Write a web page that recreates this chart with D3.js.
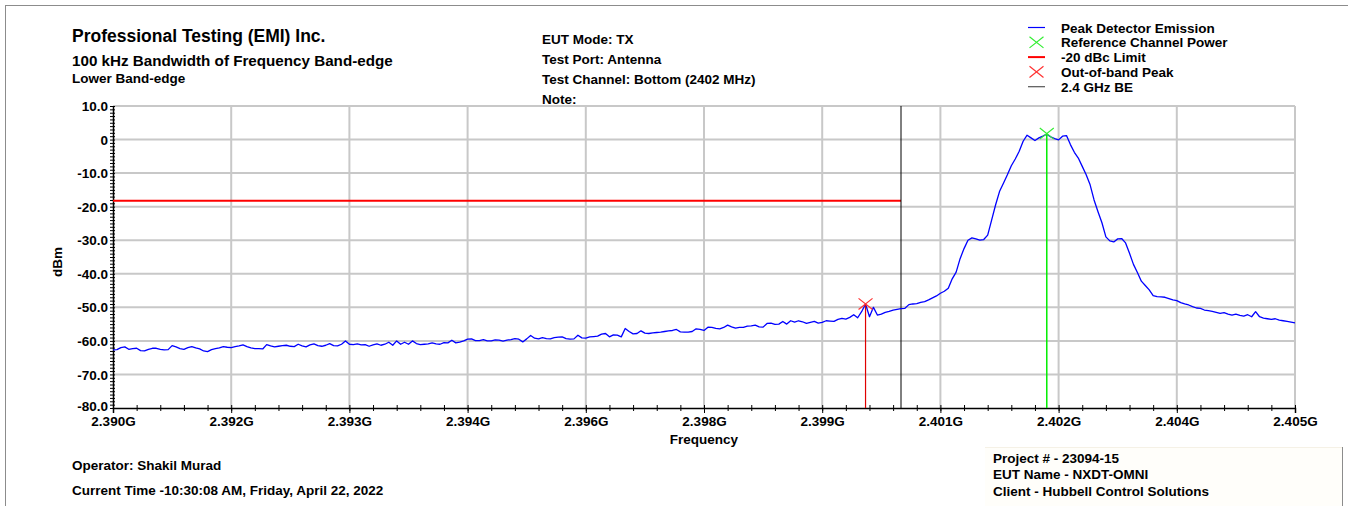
<!DOCTYPE html>
<html>
<head>
<meta charset="utf-8">
<script src="https://cdn.jsdelivr.net/npm/d3@7"></script>
<style>
  html, body { margin: 0; padding: 0; background: #ffffff; }
  svg { display: block; }
  text { font-family: "Liberation Sans", Arial, sans-serif; font-weight: bold; fill: #000; }
</style>
</head>
<body>
<svg id="chart" width="1348" height="506"></svg>
<script>
// ---------------- DATA ----------------
const traceStartMHz = 2390;
const traceStepMHz = 0.05;
const traceDbm = [
  -62.7,-62.6,-62.0,-61.8,-62.5,-62.3,-62.2,-62.9,-63.0,-62.5,-62.2,-62.2,-62.5,-62.7,-62.6,-61.4,-61.8,-62.3,-62.5,-62.0,
  -61.7,-62.1,-62.4,-63.0,-63.2,-62.6,-62.3,-62.1,-61.7,-61.9,-62.0,-61.7,-61.5,-61.2,-61.7,-62.1,-62.3,-62.3,-62.4,-61.1,
  -61.5,-61.8,-61.6,-61.4,-61.3,-61.6,-61.7,-61.0,-61.5,-61.8,-61.2,-60.9,-61.4,-61.6,-61.3,-60.8,-61.4,-61.5,-61.0,-60.0,
  -61.0,-61.1,-60.9,-61.2,-61.1,-61.6,-61.2,-60.9,-61.3,-61.0,-60.4,-61.3,-60.0,-61.0,-60.4,-61.0,-60.0,-60.8,-61.1,-61.0,
  -60.9,-60.6,-60.9,-61.0,-60.5,-60.6,-59.8,-60.6,-60.4,-60.0,-59.5,-59.4,-59.9,-59.9,-59.6,-60.0,-60.0,-59.7,-59.8,-60.1,
  -59.8,-59.6,-59.3,-59.5,-60.3,-59.4,-58.4,-59.2,-59.4,-59.0,-59.3,-59.4,-59.0,-58.9,-58.8,-59.3,-59.5,-59.4,-58.3,-59.1,
  -59.2,-58.8,-58.7,-58.6,-58.0,-57.8,-58.8,-58.2,-58.3,-58.8,-56.3,-57.2,-57.9,-57.8,-57.0,-57.7,-57.8,-57.6,-57.5,-57.4,
  -57.2,-57.0,-56.9,-56.6,-57.3,-57.4,-57.4,-57.2,-56.4,-56.6,-56.9,-55.9,-56.0,-56.3,-56.4,-56.0,-55.3,-55.8,-56.2,-56.0,
  -56.0,-55.6,-55.5,-55.3,-55.8,-55.9,-54.8,-54.7,-55.1,-55.0,-54.2,-55.0,-54.0,-54.4,-54.0,-54.3,-54.8,-54.5,-54.2,-54.7,
  -54.5,-54.0,-54.1,-54.2,-53.6,-53.3,-53.5,-53.0,-52.2,-53.1,-51.3,-49.0,-52.8,-50.0,-52.3,-52.0,-51.5,-51.2,-50.8,-50.6,
  -50.4,-50.3,-49.2,-49.0,-48.9,-48.5,-48.3,-47.8,-47.2,-46.6,-45.8,-45.2,-44.3,-41.5,-39.5,-35.5,-32.5,-30.0,-29.3,-29.6,
  -30.0,-29.8,-28.5,-24.0,-19.5,-15.5,-13.0,-10.5,-7.8,-5.8,-3.5,-0.5,1.3,0.5,-0.3,0.5,1.0,1.6,0.8,0.3,
  -0.1,1.0,1.2,-1.5,-3.8,-5.5,-8.0,-10.5,-13.5,-18.0,-21.5,-24.8,-29.0,-30.2,-30.5,-29.6,-29.5,-30.8,-33.9,-37.2,
  -39.6,-42.2,-43.5,-44.8,-46.5,-46.8,-46.9,-47.0,-47.4,-47.8,-48.0,-48.6,-49.0,-49.3,-49.8,-50.2,-50.3,-50.8,-51.0,-51.2,
  -51.5,-51.8,-51.6,-52.0,-52.3,-52.0,-52.4,-52.6,-52.2,-52.8,-51.3,-52.8,-53.2,-53.4,-53.6,-53.4,-53.8,-54.0,-54.2,-54.4,-54.6
];
const refChannelMHz = 2401.85;
const refChannelDbm = 1.8;
const oobPeakMHz = 2399.55;
const oobPeakDbm = -49.0;
const limitDbm = -18.2;
const bandEdgeMHz = 2400;

const xDomainMHz = [2390, 2405];
const yDomainDbm = [-80, 10];
const xTickValues = [2390, 2391.5, 2393, 2394.5, 2396, 2397.5, 2399, 2400.5, 2402, 2403.5, 2405];
const xTickLabels = ["2.390G","2.392G","2.393G","2.394G","2.396G","2.398G","2.399G","2.401G","2.402G","2.404G","2.405G"];
const yTickValues = [10, 0, -10, -20, -30, -40, -50, -60, -70, -80];
const yTickLabels = ["10.0","0","-10.0","-20.0","-30.0","-40.0","-50.0","-60.0","-70.0","-80.0"];

const headerLeft = ["Professional Testing (EMI) Inc.", "100 kHz Bandwidth of Frequency Band-edge", "Lower Band-edge"];
const headerMid = ["EUT Mode: TX", "Test Port: Antenna", "Test Channel: Bottom (2402 MHz)", "Note:"];
const legendLabels = ["Peak Detector Emission", "Reference Channel Power", "-20 dBc Limit", "Out-of-band Peak", "2.4 GHz BE"];
const footerLeft = ["Operator: Shakil Murad", "Current Time -10:30:08 AM, Friday, April 22, 2022"];
const footerRight = ["Project # - 23094-15", "EUT Name - NXDT-OMNI", "Client - Hubbell Control Solutions"];

// ---------------- DRAW ----------------
const svg = d3.select("#chart");
const W = 1348, H = 506;
const plot = { left: 113, right: 1295, top: 106, bottom: 408 };

const x = d3.scaleLinear().domain(xDomainMHz).range([plot.left, plot.right]);
const y = d3.scaleLinear().domain(yDomainDbm).range([plot.bottom, plot.top]);

// outer frame
svg.append("line").attr("x1", 5).attr("x2", W).attr("y1", 5.5).attr("y2", 5.5).attr("stroke", "#8c8c8c").attr("stroke-width", 1);
svg.append("line").attr("x1", 5.5).attr("x2", 5.5).attr("y1", 5).attr("y2", H).attr("stroke", "#8c8c8c").attr("stroke-width", 1);

// footer info box (bottom right)
svg.append("rect").attr("x", 985).attr("y", 447).attr("width", 357).attr("height", 59)
  .attr("fill", "#fffefa");
svg.append("line").attr("x1", 985).attr("x2", 1342).attr("y1", 447.5).attr("y2", 447.5)
  .attr("stroke", "#f5f1e6").attr("stroke-width", 1);
svg.append("line").attr("x1", 1342.5).attr("x2", 1342.5).attr("y1", 447).attr("y2", H)
  .attr("stroke", "#8c8c8c").attr("stroke-width", 1);

// grid
const grid = svg.append("g");
grid.selectAll("line.v").data(xTickValues.slice(1)).join("line")
  .attr("x1", d => x(d)).attr("x2", d => x(d))
  .attr("y1", plot.top).attr("y2", plot.bottom)
  .attr("stroke", "#c8c8c8").attr("stroke-width", 2);
grid.selectAll("line.h").data(yTickValues.slice(0, -1)).join("line")
  .attr("x1", plot.left).attr("x2", plot.right)
  .attr("y1", d => y(d)).attr("y2", d => y(d))
  .attr("stroke", "#c8c8c8").attr("stroke-width", 2);

// axes
const yMinor = d3.range(yDomainDbm[0], yDomainDbm[1] + 1, 1);
const yAxisMinor = d3.axisLeft(y).tickValues(yMinor).tickSize(3).tickFormat("");
svg.append("g").attr("transform", `translate(${plot.left},0)`).call(yAxisMinor)
  .call(g => g.select(".domain").remove())
  .call(g => g.selectAll("line").attr("stroke", "#000").attr("x2", -3).attr("x1", 2));

const yAxis = d3.axisLeft(y).tickValues(yTickValues).tickSize(0).tickPadding(5)
  .tickFormat((d, i) => yTickLabels[i]);
svg.append("g").attr("transform", `translate(${plot.left},0)`).call(yAxis)
  .call(g => g.select(".domain").attr("stroke", "#000").attr("stroke-width", 1.5))
  .call(g => g.selectAll("text").attr("font-size", "13.5px").attr("font-family", null)
    .attr("dy", d => d === yDomainDbm[0] ? "0.18em" : "0.34em"));

const xMinor = d3.range(0, 51).map(i => xDomainMHz[0] + i * 0.3);
const xAxisMinor = d3.axisBottom(x).tickValues(xMinor).tickSize(3).tickFormat("");
svg.append("g").attr("transform", `translate(0,${plot.bottom})`).call(xAxisMinor)
  .call(g => g.select(".domain").remove())
  .call(g => g.selectAll("line").attr("stroke", "#000").attr("y1", -3).attr("y2", 3));

const xAxis = d3.axisBottom(x).tickValues(xTickValues).tickSize(5).tickPadding(2)
  .tickFormat((d, i) => xTickLabels[i]);
svg.append("g").attr("transform", `translate(0,${plot.bottom})`).call(xAxis)
  .call(g => g.select(".domain").attr("stroke", "#000").attr("stroke-width", 1.5))
  .call(g => g.selectAll("line").attr("stroke", "#000"))
  .call(g => g.selectAll("text").attr("font-size", "13.5px").attr("font-family", null).attr("dy", "0.78em"));

// axis titles
svg.append("text").attr("x", (plot.left + plot.right) / 2).attr("y", 444)
  .attr("text-anchor", "middle").attr("font-size", "13.5px").text("Frequency");
svg.append("text").attr("transform", `translate(62,${(plot.top + plot.bottom) / 2 + 5}) rotate(-90)`)
  .attr("text-anchor", "middle").attr("font-size", "13.5px").text("dBm");

// limit line
svg.append("line").attr("x1", x(xDomainMHz[0])).attr("x2", x(bandEdgeMHz))
  .attr("y1", y(limitDbm)).attr("y2", y(limitDbm))
  .attr("stroke", "#ff0000").attr("stroke-width", 2);

// band edge line
svg.append("line").attr("x1", x(bandEdgeMHz)).attr("x2", x(bandEdgeMHz))
  .attr("y1", plot.top).attr("y2", plot.bottom)
  .attr("stroke", "#000").attr("stroke-width", 1);

// trace
const line = d3.line().x((d, i) => x(traceStartMHz + i * traceStepMHz)).y(d => y(d));
svg.append("path").datum(traceDbm).attr("d", line)
  .attr("fill", "none").attr("stroke", "#0000ff").attr("stroke-width", 1.3).attr("stroke-linejoin", "round");

// marker lines
svg.append("line").attr("x1", x(refChannelMHz)).attr("x2", x(refChannelMHz))
  .attr("y1", y(refChannelDbm)).attr("y2", plot.bottom)
  .attr("stroke", "#00ee00").attr("stroke-width", 1.5);
svg.append("line").attr("x1", x(oobPeakMHz)).attr("x2", x(oobPeakMHz))
  .attr("y1", y(oobPeakDbm)).attr("y2", plot.bottom)
  .attr("stroke", "#e00000").attr("stroke-width", 1.2);

function cross(g, cx, cy, color, s) {
  g.append("path").attr("d", `M${cx - s},${cy - s * 0.8}L${cx + s},${cy + s * 0.8}M${cx - s},${cy + s * 0.8}L${cx + s},${cy - s * 0.8}`)
    .attr("stroke", color).attr("stroke-width", 1.2).attr("fill", "none");
}
cross(svg, x(refChannelMHz), y(refChannelDbm), "#33ee33", 7);
cross(svg, x(oobPeakMHz), y(oobPeakDbm), "#ff3333", 7);

// header text
const hl = svg.append("g");
hl.append("text").attr("x", 72).attr("y", 42).attr("font-size", "17.5px").text(headerLeft[0]);
hl.append("text").attr("x", 72).attr("y", 65.5).attr("font-size", "15.2px").text(headerLeft[1]);
hl.append("text").attr("x", 72).attr("y", 82.5).attr("font-size", "13.5px").text(headerLeft[2]);

svg.append("g").selectAll("text").data(headerMid).join("text")
  .attr("x", 542).attr("y", (d, i) => 43.5 + i * 20.3).attr("font-size", "13.5px").text(d => d);

// legend
const lg = svg.append("g");
const legY = i => 27.5 + i * 14.8;
lg.selectAll("text").data(legendLabels).join("text")
  .attr("x", 1061).attr("y", (d, i) => legY(i) + 5).attr("font-size", "13.5px").text(d => d);
lg.append("line").attr("x1", 1028).attr("x2", 1045).attr("y1", legY(0)).attr("y2", legY(0)).attr("stroke", "#0000ff").attr("stroke-width", 1.2);
cross(lg, 1036.5, legY(1), "#33ee33", 7);
lg.append("line").attr("x1", 1028).attr("x2", 1045).attr("y1", legY(2)).attr("y2", legY(2)).attr("stroke", "#ff0000").attr("stroke-width", 2);
cross(lg, 1036.5, legY(3), "#ff3333", 7);
lg.append("line").attr("x1", 1028).attr("x2", 1045).attr("y1", legY(4)).attr("y2", legY(4)).attr("stroke", "#555").attr("stroke-width", 1.2);

// footer
svg.append("g").selectAll("text").data(footerLeft).join("text")
  .attr("x", 72).attr("y", (d, i) => 469.5 + i * 25.7).attr("font-size", "13.5px").text(d => d);
svg.append("g").selectAll("text").data(footerRight).join("text")
  .attr("x", 993).attr("y", (d, i) => 462.7 + i * 16.5).attr("font-size", "13.5px").text(d => d);
</script>
</body>
</html>
